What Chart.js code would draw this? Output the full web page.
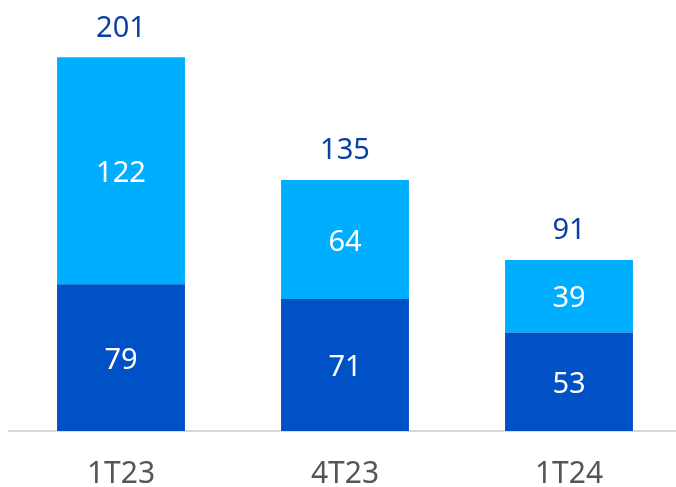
<!DOCTYPE html>
<html>
<head>
<meta charset="utf-8">
<script src="https://cdn.jsdelivr.net/npm/chart.js@4"></script>
<style>
  html, body { margin: 0; padding: 0; background: #fff; overflow: hidden; }
  #wrap { position: relative; width: 690px; height: 509px; }
</style>
</head>
<body>
<div id="wrap"><canvas id="chart"></canvas></div>
<script>
const categories = ['1T23', '4T23', '1T24'];
const baseValues = [79, 71, 53];
const topValues = [122, 64, 39];
const totals = [201, 135, 91];

const darkBlue = '#0050c6';
const lightBlue = '#00aeff';
const FONT = '"Noto Sans", sans-serif';

// value labels inside the bars and totals on top
const labelPlugin = {
  id: 'labels',
  afterDatasetsDraw(chart) {
    const ctx = chart.ctx;
    ctx.save();
    ctx.font = '29px ' + FONT;
    ctx.textAlign = 'center';
    ctx.textBaseline = 'middle';
    chart.data.datasets.forEach((ds, i) => {
      chart.getDatasetMeta(i).data.forEach((bar, j) => {
        ctx.fillStyle = '#ffffff';
        ctx.fillText(ds.data[j], bar.x, (bar.y + bar.base) / 2 + 3);
      });
    });
    chart.getDatasetMeta(1).data.forEach((bar, j) => {
      ctx.fillStyle = '#0a3fa3';
      ctx.fillText(totals[j], bar.x, bar.y - 29);
    });
    ctx.restore();
  }
};

new Chart(document.getElementById('chart').getContext('2d'), {
  type: 'bar',
  data: {
    labels: categories,
    datasets: [
      { data: baseValues, backgroundColor: darkBlue },
      { data: topValues, backgroundColor: lightBlue }
    ]
  },
  options: {
    responsive: true,
    maintainAspectRatio: false,
    animation: false,
    layout: { padding: { left: 9, right: 9, top: 22, bottom: 0 } },
    datasets: { bar: { categoryPercentage: 1, barPercentage: 0.571 } },
    plugins: { legend: { display: false }, tooltip: { enabled: false } },
    scales: {
      x: {
        stacked: true,
        grid: { display: false },
        border: { display: true, color: '#d9d9d9', width: 2 },
        ticks: { color: '#555555', font: { family: FONT, size: 30 }, padding: 17 }
      },
      y: {
        stacked: true,
        display: false,
        min: 0,
        max: 220
      }
    }
  },
  plugins: [labelPlugin]
});
</script>
</body>
</html>
